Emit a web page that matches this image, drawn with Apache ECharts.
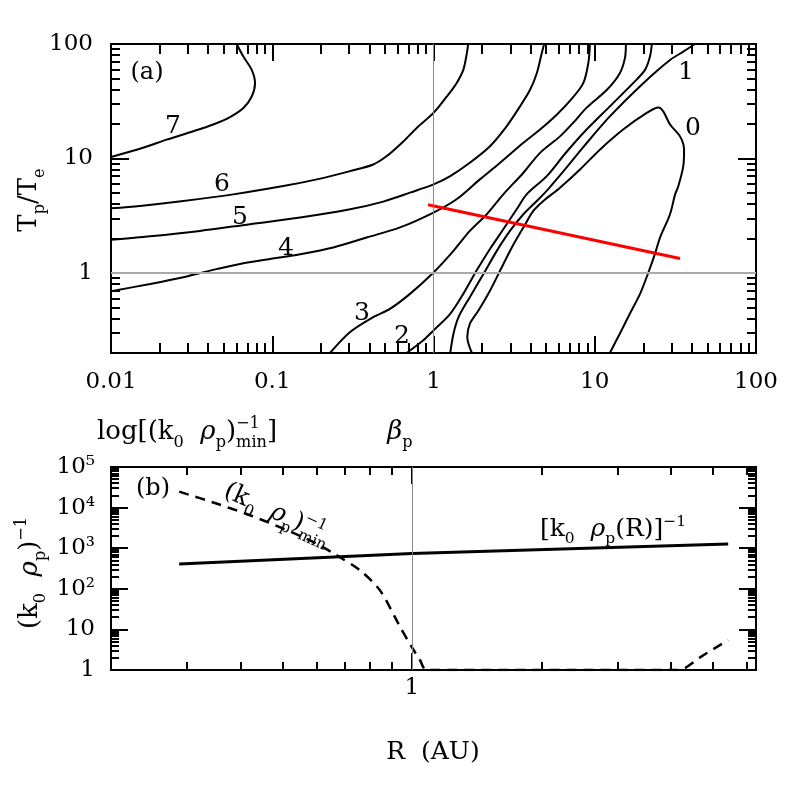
<!DOCTYPE html>
<html>
<head>
<meta charset="utf-8">
<script src="https://cdn.jsdelivr.net/npm/echarts@6/dist/echarts.min.js"></script>
<style>
  html, body { margin: 0; padding: 0; background: #fff; }
  #chart { width: 797px; height: 797px; }
</style>
</head>
<body>
<div id="chart"></div>
<script>
const FONT = '"DejaVu Serif"';

// panel (a): contours of log[(k0 rho_p)^-1_min] over (beta_p, Tp/Te)
const contour7 = [[0.0602,100],[0.0662,77.6],[0.0746,59.4],[0.0782,45.5],[0.0746,34.8],[0.0662,27.6],[0.0547,23.0],[0.0430,19.8],[0.0324,17.3],[0.0221,14.6],[0.0158,12.4],[0.01,10.3]];
const contour6 = [[0.01,3.67],[0.0151,3.85],[0.0281,4.25],[0.0573,4.86],[0.117,5.74],[0.189,6.57],[0.304,7.76],[0.423,8.87],[0.513,10.5],[0.65,14.1],[0.787,18.5],[1.0,25.0],[1.21,34.8],[1.39,45.5],[1.53,59.4],[1.61,83],[1.64,100]];
const contour5 = [[0.01,1.95],[0.0175,2.09],[0.0356,2.33],[0.0728,2.67],[0.149,3.05],[0.304,3.60],[0.488,4.20],[0.715,5.03],[1.0,5.94],[1.27,7.02],[1.68,9.18],[2.24,12.8],[2.84,19.1],[3.44,28.5],[3.97,39.8],[4.37,55.6],[4.69,83],[4.85,100]];
const contour4 = [[0.01,0.693],[0.0175,0.802],[0.0281,0.918],[0.0452,1.08],[0.0631,1.20],[0.0924,1.31],[0.149,1.46],[0.239,1.67],[0.385,2.04],[0.62,2.50],[1.0,3.37],[1.39,4.40],[1.94,6.57],[2.59,9.18],[3.61,13.7],[4.58,17.9],[5.81,24.1],[7.12,32.6],[8.49,45.5],[9.12,68],[9.34,100]];
const contour3 = [[0.228,0.2],[0.304,0.305],[0.423,0.412],[0.537,0.486],[0.715,0.657],[1.0,1.01],[1.33,1.56],[1.68,2.33],[2.14,3.26],[2.71,4.86],[3.61,7.51],[4.58,11.2],[6.09,15.6],[7.33,20.4],[8.91,27.8],[11.9,39.8],[14.3,55.6],[15.4,75.6],[15.6,100]];
const contour2 = [[0.682,0.2],[0.865,0.258],[1.0,0.315],[1.27,0.44],[1.53,0.657],[1.85,1.05],[2.24,1.62],[2.71,2.41],[3.28,3.60],[3.78,4.86],[5.04,7.02],[6.54,11.0],[8.49,16.7],[12.4,28.5],[17.3,45.5],[20.5,59.4],[22.0,77.6],[22.6,100]];
const contour1 = [[1.27,0.2],[1.33,0.295],[1.43,0.412],[1.68,0.615],[2.04,0.98],[2.47,1.56],[2.98,2.33],[3.61,3.26],[4.37,4.25],[5.13,5.38],[6.54,8.02],[8.46,12.5],[12.4,23.3],[20.0,45.5],[29.3,72.6],[35.4,85.7],[41.8,100]];
const contour0 = [[1.73,0.2],[1.62,0.276],[1.68,0.36],[1.90,0.47],[2.24,0.70],[2.59,1.05],[3.06,1.67],[3.61,2.50],[4.16,3.48],[4.80,4.25],[6.09,5.56],[8.10,8.02],[10.8,12.0],[15.0,17.9],[21.0,25.0],[24.8,27.9],[26.6,25.8],[29.3,19.8],[33.8,15.6],[35.8,12.0],[35.4,8.57],[33.0,5.74],[31.5,4.86],[29.3,3.26],[25.4,2.04],[23.6,1.46],[21.5,1.01],[19.1,0.657],[16.5,0.44],[14.3,0.295],[12.4,0.2]];
const redLine = [[0.925,3.94],[33.8,1.34]];

// panel (b): (k0 rho_p)^-1 against R (AU)
const kRhoR = [[0.288,408],[1,745],[5.43,1268]];
const kRhoMin = [[0.288,24700],[0.350,12800],[0.419,6570],[0.501,3090],[0.599,1320],[0.667,680],[0.756,290],[0.842,93],[0.921,17],[0.938,11.7],[0.998,3.75],[1.044,1.76],[1.082,1],[4.11,1],[4.30,1.1],[4.70,2.13],[5.43,5.48]];

const A_X = [0.01, 100], A_Y = [0.2, 100];
const B_X = [0.2, 6.3], B_Y = [1, 1e5];

// tick positions
const MANT = [2, 3, 4, 5, 6, 7, 8, 9];
const minors = (decades) => decades.flatMap(d => MANT.map(m => m * d));
const aXMajor = [0.01, 0.1, 1, 10, 100];
const aXMinor = minors([0.01, 0.1, 1, 10]);
const aYMajor = [1, 10, 100];
const aYMinor = minors([0.1, 1, 10]);
const bXMajor = [1];
const bXMinor = minors([0.1]).concat([2, 3, 4, 5, 6]);
const bYMajor = [1, 10, 100, 1000, 1e4, 1e5];
const bYMinor = minors([1, 10, 100, 1000, 1e4]);

const contourLabels = [
  ['7', 173, 126], ['6', 222, 184], ['5', 240, 217], ['4', 286, 248],
  ['3', 362, 313], ['2', 402, 336], ['1', 686, 72], ['0', 693, 128]
];

const ctx = document.createElement('canvas').getContext('2d');
function textWidth(t, size, italic) {
  ctx.font = (italic ? 'italic ' : '') + size + 'px ' + FONT;
  return ctx.measureText(t).width;
}

// parts: [text, kind] kind n normal, i italic, b sub, p sup, s stacked sup/sub
function mathText(parts, x, y, size, opts) {
  opts = opts || {};
  const small = size * 0.62;
  const children = [];
  let cx = 0;
  const add = (t, s, dy, italic) => {
    children.push({
      type: 'text', x: cx, y: dy - 0.3 * s,
      style: { text: t, fontSize: s, fontFamily: FONT, fontStyle: italic ? 'italic' : 'normal',
               fill: '#000', verticalAlign: 'middle', align: 'left' }
    });
    return textWidth(t, s, italic);
  };
  parts.forEach(p => {
    const t = p[0], k = p[1];
    if (k === 'n') cx += add(t, size, 0, false);
    else if (k === 'i') cx += add(t, size, 0, true);
    else if (k === 'b') cx += add(t, small, size * 0.28, false);
    else if (k === 'p') cx += add(t, small, -size * 0.42, false);
    else if (k === 's') {
      const w1 = add(t, small, -size * 0.42, false);
      const w2 = add(p[2], small, size * 0.3, false);
      cx += Math.max(w1, w2);
    }
  });
  const off = opts.align === 'left' ? 0 : -cx / 2;
  children.forEach(c => { c.x += off; });
  return { type: 'group', x, y, rotation: opts.rotation || 0, silent: true, children };
}

// data axes (log) carry the labels
const axisLabel = { fontFamily: FONT, fontSize: 23, color: '#000' };
const logAxis = (grid, range, label) => ({
  type: 'log', logBase: 10, gridIndex: grid, min: range[0], max: range[1],
  axisLine: { show: false, onZero: false }, axisTick: { show: false }, splitLine: { show: false },
  axisLabel: Object.assign({}, axisLabel, label)
});
// tick-only axes in decade units, so minor ticks can sit at 2..9 of each decade
const tickAxis = (grid, range, vals, len, pos) => ({
  type: 'value', gridIndex: grid, position: pos,
  min: Math.log10(range[0]), max: Math.log10(range[1]),
  axisLine: { show: false, onZero: false }, axisLabel: { show: false }, splitLine: { show: false },
  axisTick: { show: true, inside: true, length: len, lineStyle: { color: '#000', width: 2 },
              customValues: vals.map(v => Math.log10(v)) }
});
const SUP = { 2: '²', 3: '³', 4: '⁴', 5: '⁵' };

const contour = (data) => ({
  type: 'line', data, xAxisIndex: 0, yAxisIndex: 0, symbol: 'none', smooth: 0.3,
  lineStyle: { color: '#000', width: 2 }
});

const option = {
  animation: false,
  backgroundColor: '#fff',
  grid: [
    { left: 111, top: 44, width: 645, height: 309, show: true, borderColor: '#000', borderWidth: 2 },
    { left: 111, top: 467, width: 645, height: 203, show: true, borderColor: '#000', borderWidth: 2 }
  ],
  xAxis: [
    logAxis(0, A_X, { margin: 18, formatter: v => String(+Number(v).toPrecision(3)) }),
    logAxis(1, B_X, { margin: 7, formatter: v => (Math.abs(v - 1) < 1e-6 ? '1' : '') }),
    tickAxis(0, A_X, aXMajor, 17, 'bottom'), tickAxis(0, A_X, aXMinor, 10, 'bottom'),
    tickAxis(0, A_X, aXMajor, 17, 'top'), tickAxis(0, A_X, aXMinor, 10, 'top'),
    tickAxis(1, B_X, bXMajor, 17, 'bottom'), tickAxis(1, B_X, bXMinor, 8, 'bottom'),
    tickAxis(1, B_X, bXMajor, 17, 'top'), tickAxis(1, B_X, bXMinor, 8, 'top')
  ],
  yAxis: [
    logAxis(0, A_Y, { margin: 18, showMinLabel: false, formatter: v => String(+Number(v).toPrecision(3)) }),
    logAxis(1, B_Y, { margin: 16, formatter: v => {
      const e = Math.round(Math.log10(v));
      return e === 0 ? '1' : e === 1 ? '10' : '10' + SUP[e];
    } }),
    tickAxis(0, A_Y, aYMajor, 18, 'left'), tickAxis(0, A_Y, aYMinor, 9, 'left'),
    tickAxis(0, A_Y, aYMajor, 18, 'right'), tickAxis(0, A_Y, aYMinor, 9, 'right'),
    tickAxis(1, B_Y, bYMajor, 17, 'left'), tickAxis(1, B_Y, bYMinor, 8, 'left'),
    tickAxis(1, B_Y, bYMajor, 17, 'right'), tickAxis(1, B_Y, bYMinor, 8, 'right')
  ],
  series: [
    {
      type: 'line', data: [], xAxisIndex: 0, yAxisIndex: 0,
      markLine: {
        silent: true, symbol: 'none', label: { show: false }, animation: false,
        data: [
          { xAxis: 1, lineStyle: { color: '#888', width: 1, type: 'solid' } },
          { yAxis: 1, lineStyle: { color: '#aaa', width: 2, type: 'solid' } }
        ]
      }
    },
    {
      type: 'line', data: [], xAxisIndex: 1, yAxisIndex: 1,
      markLine: {
        silent: true, symbol: 'none', label: { show: false }, animation: false,
        data: [{ xAxis: 1, lineStyle: { color: '#888', width: 1, type: 'solid' } }]
      }
    },
    contour(contour7), contour(contour6), contour(contour5), contour(contour4),
    contour(contour3), contour(contour2), contour(contour1), contour(contour0),
    {
      type: 'line', data: redLine, xAxisIndex: 0, yAxisIndex: 0, symbol: 'none',
      lineStyle: { color: '#ff0000', width: 3 }
    },
    {
      type: 'line', data: kRhoR, xAxisIndex: 1, yAxisIndex: 1, symbol: 'none',
      lineStyle: { color: '#000', width: 3 }
    },
    {
      type: 'line', data: kRhoMin, xAxisIndex: 1, yAxisIndex: 1, symbol: 'none', smooth: 0.3,
      lineStyle: { color: '#000', width: 2.5, type: [10, 7] }
    }
  ],
  graphic: { elements: [] }
};

const g = option.graphic.elements;
contourLabels.forEach(([t, x, y]) => g.push({
  type: 'text', x, y, silent: true,
  style: { text: t, fontSize: 25, fontFamily: FONT, fill: '#000', align: 'center', verticalAlign: 'middle' }
}));
g.push(mathText([['(a)', 'n']], 147, 80, 24));
g.push(mathText([['(b)', 'n']], 153, 496, 24));
g.push(mathText([['T', 'n'], ['p', 'b'], ['/', 'n'], ['T', 'n'], ['e', 'b']], 37, 200, 26, { rotation: Math.PI / 2 }));
g.push(mathText([['(k', 'n'], ['0', 'b'], ['  ', 'n'], ['ρ', 'i'], ['p', 'b'], [')', 'n'], ['−1', 'p']], 38, 573, 26, { rotation: Math.PI / 2 }));
g.push(mathText([['log[(k', 'n'], ['0', 'b'], ['  ', 'n'], ['ρ', 'i'], ['p', 'b'], [')', 'n'], ['−1', 's', 'min'], [']', 'n']], 187, 440, 26));
g.push(mathText([['β', 'i'], ['p', 'b']], 400, 440, 26));
g.push(mathText([['R  (AU)', 'n']], 433, 760, 25));
g.push(mathText([['[k', 'n'], ['0', 'b'], ['  ', 'n'], ['ρ', 'i'], ['p', 'b'], ['(R)]', 'n'], ['−1', 'p']], 613, 537, 25));
g.push(mathText([['(k', 'n'], ['0', 'b'], ['  ', 'n'], ['ρ', 'i'], ['p', 'b'], [')', 'n'], ['−1', 's', 'min']], 222, 497, 25, { rotation: -0.42, align: 'left' }));

const chart = echarts.init(document.getElementById('chart'), null, { renderer: 'canvas' });
chart.setOption(option);
</script>
</body>
</html>
